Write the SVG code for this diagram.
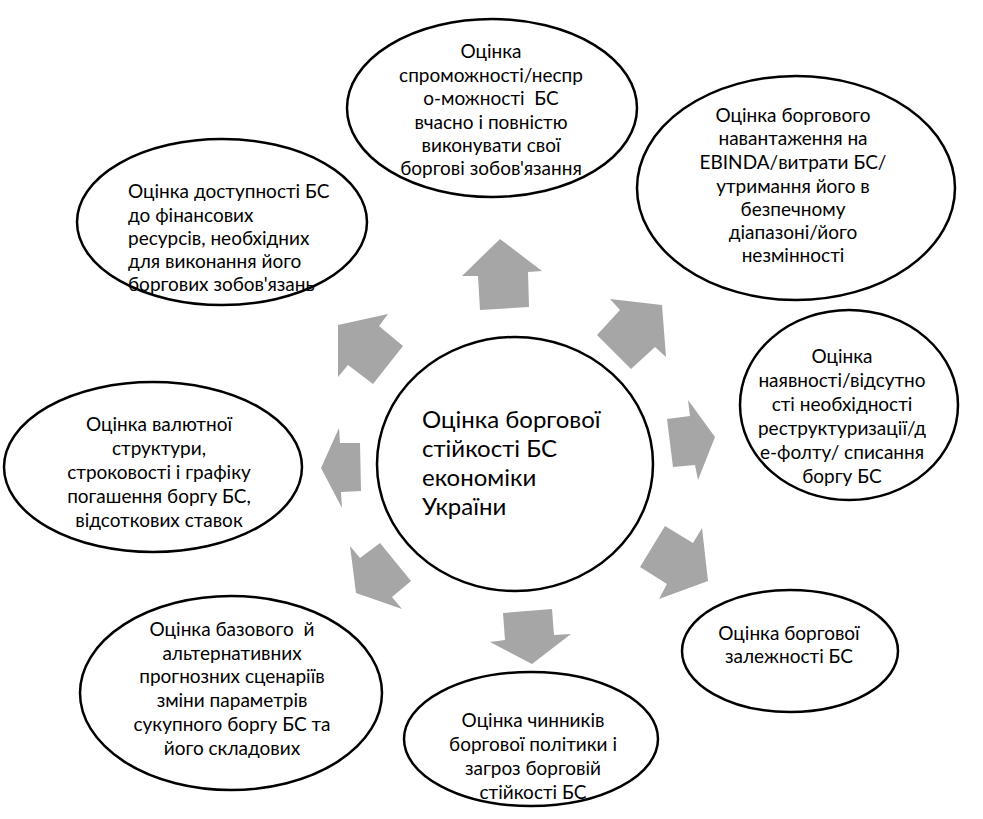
<svg xmlns="http://www.w3.org/2000/svg" width="983" height="819" viewBox="0 0 983 819">
<style>
.n{fill:#fff;stroke:#000;stroke-width:2.5}
.t{font-family:Lato,"Open Sans",sans-serif;font-size:19px;fill:#000;text-anchor:middle;white-space:pre}
.tl{text-anchor:start}
.c{font-family:Lato,"Open Sans",sans-serif;font-size:24px;fill:#000}
.a{fill:#a6a6a6;stroke:none}
</style>
<rect width="983" height="819" fill="#fff"/>
<g id="top">
<ellipse class="n" cx="492" cy="108" rx="145" ry="89"/>
<text class="t" xml:space="preserve"><tspan x="491" y="58">Оцінка</tspan><tspan x="491" y="82">спроможності/неспр</tspan><tspan x="491" y="105">о-можності  БС</tspan><tspan x="491" y="129">вчасно і повністю</tspan><tspan x="491" y="152">виконувати свої</tspan><tspan x="491" y="175">боргові зобов'язання</tspan></text>
</g>
<g id="upper-right">
<ellipse class="n" cx="796" cy="188" rx="159" ry="112"/>
<text class="t"><tspan x="793" y="122">Оцінка боргового</tspan><tspan x="793" y="145">навантаження на</tspan><tspan x="793" y="169">EBINDA/витрати БС/</tspan><tspan x="793" y="193">утримання його в</tspan><tspan x="793" y="216">безпечному</tspan><tspan x="793" y="239">діапазоні/його</tspan><tspan x="793" y="262">незмінності</tspan></text>
</g>
<g id="upper-left">
<ellipse class="n" cx="222" cy="222" rx="145" ry="83"/>
<text class="t tl"><tspan x="128" y="198">Оцінка доступності БС</tspan><tspan x="128" y="222">до фінансових</tspan><tspan x="128" y="245">ресурсів, необхідних</tspan><tspan x="128" y="268">для виконання його</tspan><tspan x="128" y="291">боргових зобов'язань</tspan></text>
</g>
<g id="right">
<ellipse class="n" cx="849" cy="405" rx="109" ry="95"/>
<text class="t"><tspan x="842" y="363">Оцінка</tspan><tspan x="842" y="387">наявності/відсутно</tspan><tspan x="842" y="411">сті необхідності</tspan><tspan x="842" y="435">реструктуризації/д</tspan><tspan x="842" y="459">е-фолту/ списання</tspan><tspan x="842" y="483">боргу БС</tspan></text>
</g>
<g id="left">
<ellipse class="n" cx="153" cy="467" rx="149" ry="85"/>
<text class="t"><tspan x="159" y="431">Оцінка валютної</tspan><tspan x="159" y="455">структури,</tspan><tspan x="159" y="479">строковості і графіку</tspan><tspan x="159" y="503">погашення боргу БС,</tspan><tspan x="159" y="527">відсоткових ставок</tspan></text>
</g>
<g id="center">
<ellipse class="n" cx="515" cy="464" rx="138" ry="127"/>
<text class="c"><tspan x="422" y="428">Оцінка боргової</tspan><tspan x="422" y="457">стійкості БС</tspan><tspan x="422" y="486">економіки</tspan><tspan x="422" y="515">України</tspan></text>
</g>
<g id="lower-right">
<ellipse class="n" cx="790" cy="651" rx="108" ry="61"/>
<text class="t"><tspan x="789" y="640">Оцінка боргової</tspan><tspan x="789" y="663">залежності БС</tspan></text>
</g>
<g id="bottom">
<ellipse class="n" cx="531" cy="739" rx="127" ry="67"/>
<text class="t"><tspan x="533" y="727">Оцінка чинників</tspan><tspan x="533" y="751">боргової політики і</tspan><tspan x="533" y="775">загроз борговій</tspan><tspan x="533" y="799">стійкості БС</tspan></text>
</g>
<g id="lower-left">
<ellipse class="n" cx="231" cy="693" rx="151" ry="97"/>
<text class="t" xml:space="preserve"><tspan x="232" y="636">Оцінка базового  й</tspan><tspan x="232" y="660">альтернативних</tspan><tspan x="232" y="683">прогнозних сценаріїв</tspan><tspan x="232" y="707">зміни параметрів</tspan><tspan x="232" y="731">сукупного боргу БС та</tspan><tspan x="232" y="755">його складових</tspan></text>
</g>
<g id="connectors">
<polygon class="a" points="500,239 542,271 528,272 529,307 480,310 478,276 462,276"/>
<polygon class="a" points="662,305 666,357 655,347 631,369 597,335 620,310 610,299"/>
<polygon class="a" points="715,437 698,480 695,465 673,467 667,419 690,416 688,400"/>
<polygon class="a" points="708,581 659,599 667,584 640,567 665,526 693,543 702,528"/>
<polygon class="a" points="532,664 490,642 505,640 503,613 552,609 554,635 571,634"/>
<polygon class="a" points="356,593 350,546 360,558 380,543 411,581 392,597 402,609"/>
<polygon class="a" points="321,468 339,428 340,443 360,443 361,491 341,492 342,508"/>
<polygon class="a" points="338,325 388,314 379,326 403,346 373,384 348,365 338,377"/>
</g>
</svg>
